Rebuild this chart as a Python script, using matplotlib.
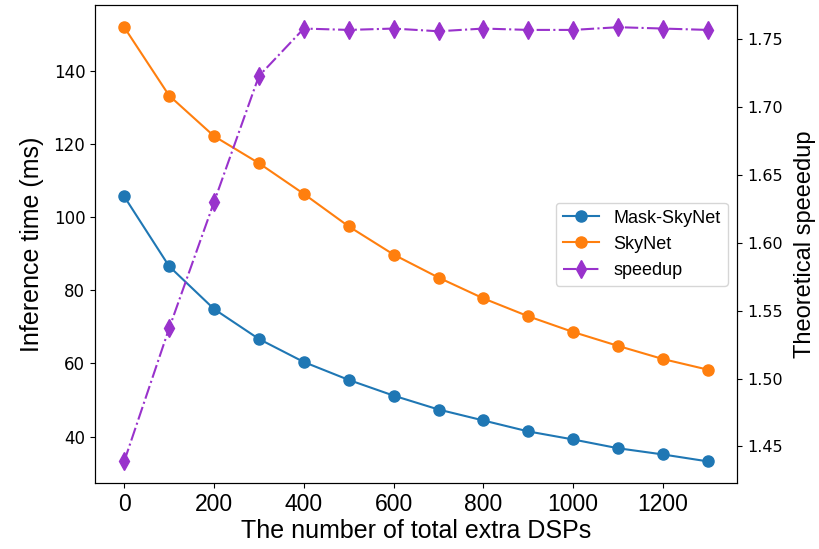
import matplotlib
matplotlib.use("Agg")
import matplotlib.pyplot as plt

dsps = [0, 100, 200, 300, 400, 500, 600, 700, 800, 900, 1000, 1100, 1200, 1300]
mask_skynet = [105.7, 86.6, 74.9, 66.7, 60.4, 55.5, 51.2, 47.4, 44.4, 41.4, 39.2, 36.8, 35.1, 33.2]
skynet = [152.0, 133.3, 122.2, 114.8, 106.4, 97.5, 89.8, 83.5, 77.8, 72.9, 68.6, 64.8, 61.2, 58.3]
speedup = [1.439, 1.537, 1.630, 1.723, 1.758, 1.757, 1.758, 1.756, 1.758, 1.757, 1.757, 1.759, 1.758, 1.757]

arial = "Liberation Sans"

fig, ax = plt.subplots(figsize=(8.19, 5.49), dpi=100)
l1, = ax.plot(dsps, mask_skynet, "-o", color="#1f77b4", markersize=8, label="Mask-SkyNet")
l2, = ax.plot(dsps, skynet, "-o", color="#ff7f0e", markersize=8, label="SkyNet")
ax.set_xlabel("The number of total extra DSPs", fontsize=18, family=arial, labelpad=2)
ax.set_ylabel("Inference time (ms)", fontsize=18, family=arial, labelpad=7)
ax.tick_params(axis="y", labelsize=12)
ax.tick_params(axis="x", labelsize=16.5)
for t in ax.get_xticklabels():
    t.set_family(arial)

ax2 = ax.twinx()
l3, = ax2.plot(dsps, speedup, "-.d", color="darkorchid", markersize=9, label="speedup")
ax2.set_ylabel("Theoretical speeedup", fontsize=17, family=arial, labelpad=8)
ax2.tick_params(labelsize=11.5)

ax2.legend(handles=[l1, l2, l3], loc="center right",
           prop={"family": arial, "size": 13})

plt.subplots_adjust(left=0.116, right=0.9, top=0.99, bottom=0.12)
plt.savefig("out.png")
